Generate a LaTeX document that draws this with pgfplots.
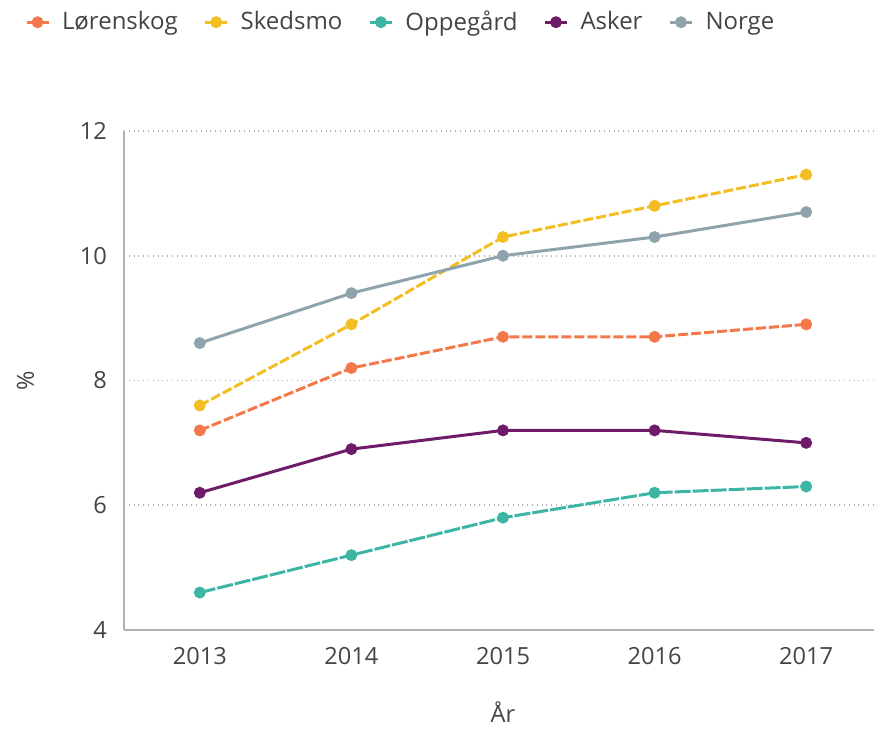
\documentclass[border=0pt]{standalone}
\usepackage{pgfplots}
\pgfplotsset{compat=1.18}
\usepackage{fontspec}
\setmainfont{Open Sans}
\definecolor{cLor}{HTML}{F4794A}
\definecolor{cSke}{HTML}{F2BE22}
\definecolor{cOpp}{HTML}{3DB5A5}
\definecolor{cAsk}{HTML}{6E1C6A}
\definecolor{cNor}{HTML}{8FA3AD}
\definecolor{txt}{HTML}{444444}
\begin{document}
\begin{tikzpicture}
\begin{axis}[
  scale only axis, width=379pt, height=249.5pt,
  xmin=2012.5, xmax=2017.5, ymin=4, ymax=12,
  xtick={2013,2014,2015,2016,2017},
  xticklabels={2013,2014,2015,2016,2017},
  ytick={4,6,8,10,12},
  major tick length=0pt,
  axis x line*=bottom, axis y line*=left,
  axis line style={draw=black!30, line width=1pt, -},
  ymajorgrids, grid style={draw=black!30, dotted, line width=0.8pt},
  tick label style={font=\fontsize{11.8}{13}\selectfont, text=txt},
  /pgf/number format/assume math mode=true,
  xticklabel style={yshift=-5pt},
  yticklabel style={xshift=-5pt},
  xlabel={År}, ylabel={\%},
  label style={font=\fontsize{11.8}{13}\selectfont, text=txt},
  xlabel style={yshift=-12pt},
  ylabel style={yshift=16pt},
  every axis plot/.append style={line width=1.5pt, mark=*, mark size=2.2pt},
  legend columns=-1,
  legend style={draw=none, at={(axis description cs:-0.139,1.218)}, anchor=west,
    font=\fontsize{12}{14}\selectfont, text=txt,
    /tikz/every odd column/.append style={column sep=4pt},
    /tikz/every even column/.append style={column sep=11pt}},
  legend image code/.code={\draw[#1, solid, mark size=2.2pt, mark repeat=2, mark phase=2] plot coordinates {(0pt,0pt)(5.5pt,0pt)(11pt,0pt)};},
  legend cell align=left,
]
\addplot[cLor, mark options={solid}, dash pattern=on 5pt off 1.5pt] coordinates {(2013,7.2)(2014,8.2)(2015,8.7)(2016,8.7)(2017,8.9)};
\addlegendentry{Lørenskog}
\addplot[cSke, mark options={solid}, dash pattern=on 5pt off 1.5pt] coordinates {(2013,7.6)(2014,8.9)(2015,10.3)(2016,10.8)(2017,11.3)};
\addlegendentry{Skedsmo}
\addplot[cOpp, mark options={solid}, dash pattern=on 8pt off 1pt] coordinates {(2013,4.6)(2014,5.2)(2015,5.8)(2016,6.2)(2017,6.3)};
\addlegendentry{Oppegård}
\addplot[cAsk] coordinates {(2013,6.2)(2014,6.9)(2015,7.2)(2016,7.2)(2017,7.0)};
\addlegendentry{Asker}
\addplot[cNor] coordinates {(2013,8.6)(2014,9.4)(2015,10.0)(2016,10.3)(2017,10.7)};
\addlegendentry{Norge}
\end{axis}
\pgfresetboundingbox
\path[use as bounding box] (current axis.south west) ++(-62pt,-50.5pt) rectangle ++(437pt,365.5pt);
\end{tikzpicture}
\end{document}
